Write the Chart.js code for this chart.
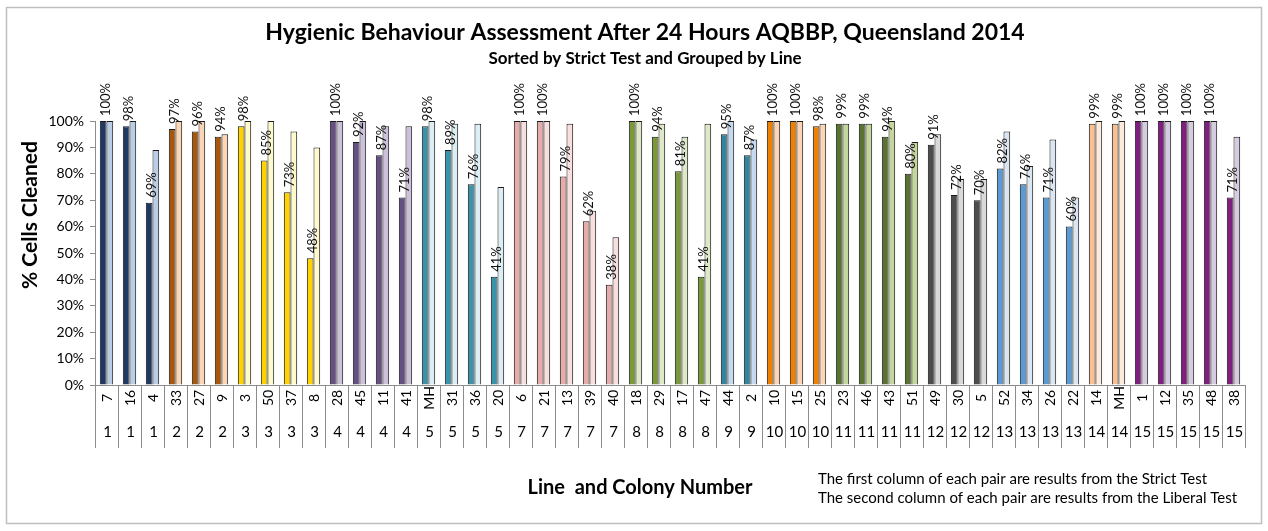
<!DOCTYPE html>
<html>
<head>
<meta charset="utf-8">
<script src="https://cdn.jsdelivr.net/npm/chart.js@4"></script>
<style>
  html, body { margin: 0; padding: 0; background: #fff; }
  #wrap { width: 1268px; height: 531px; }
</style>
</head>
<body>
<div id="wrap"><canvas id="hygieneChart" width="1268" height="531"></canvas></div>
<script>
// Colony and line for each pair of bars
const colonies = ['7', '16', '4', '33', '27', '9', '3', '50', '37', '8', '28', '45', '11', '41', 'MH', '31', '36', '20',
    '6', '21', '13', '39', '40', '18', '29', '17', '47', '44', '2', '10', '15', '25', '23', '46', '43', '51',
    '49', '30', '5', '52', '34', '26', '22', '14', 'MH', '1', '12', '35', '48', '38'];
const lines = [1, 1, 1, 2, 2, 2, 3, 3, 3, 3, 4, 4, 4, 4, 5, 5, 5, 5, 7, 7, 7, 7, 7, 8, 8, 8, 8, 9, 9, 10, 10, 10,
    11, 11, 11, 11, 12, 12, 12, 13, 13, 13, 13, 14, 14, 15, 15, 15, 15, 15];

// % cells cleaned
const strictTest = [100, 98, 69, 97, 96, 94, 98, 85, 73, 48, 100, 92, 87, 71, 98, 89, 76, 41, 100, 100, 79, 62, 38,
    100, 94, 81, 41, 95, 87, 100, 100, 98, 99, 99, 94, 80, 91, 72, 70, 82, 76, 71, 60, 99, 99, 100, 100, 100, 100, 71];
const liberalTest = [100, 100, 89, 100, 100, 95, 100, 100, 96, 90, 100, 100, 98, 98, 100, 99, 99, 75, 100, 100, 99, 66, 56,
    100, 99, 94, 99, 100, 93, 100, 100, 99, 99, 99, 100, 92, 95, 78, 78, 96, 83, 93, 71, 100, 100, 100, 100, 100, 100, 94];

const yTicks = [0, 10, 20, 30, 40, 50, 60, 70, 80, 90, 100];

// strict / liberal colour for each line
const lineColours = {
    1: ['#1F3864', '#B9CDE5'],
    2: ['#A8570B', '#FCD5B5'],
    3: ['#FFD200', '#FFFACC'],
    4: ['#665083', '#CCC1DA'],
    5: ['#3A93AA', '#DBEEF4'],
    7: ['#E6ACAA', '#F8DEDC'],
    8: ['#7A9A3A', '#DDE8C6'],
    9: ['#31859C', '#C6D9F1'],
    10: ['#F08000', '#FCD5B5'],
    11: ['#5A7333', '#C3D69B'],
    12: ['#4D4D4D', '#D9D9D9'],
    13: ['#5B9BD5', '#DCE6F2'],
    14: ['#FAC090', '#FDEADA'],
    15: ['#7F1F7F', '#D6CCE0']
};

const FONT = 'Lato, "Open Sans", sans-serif';
const AXIS_GREY = '#8c8c8c';

// draws the frame, titles, data labels and the two-level category axis
const decorations = {
    id: 'decorations',
    afterDraw(chart) {
        const ctx = chart.ctx;
        const x = chart.scales.x;
        const area = chart.chartArea;
        ctx.save();

        // outer frame
        ctx.strokeStyle = '#bfbfbf';
        ctx.lineWidth = 1.5;
        ctx.strokeRect(6.5, 7.5, 1255, 516);

        // titles
        ctx.fillStyle = '#000';
        ctx.textAlign = 'center';
        ctx.textBaseline = 'middle';
        ctx.font = 'bold 23px ' + FONT;
        ctx.fillText('Hygienic Behaviour Assessment After 24 Hours AQBBP, Queensland 2014', 645, 33);
        ctx.font = 'bold 17px ' + FONT;
        ctx.fillText('Sorted by Strict Test and Grouped by Line', 645, 59);

        // y axis title
        ctx.save();
        ctx.translate(30, 215);
        ctx.rotate(-Math.PI / 2);
        ctx.font = 'bold 21px ' + FONT;
        ctx.fillText('% Cells Cleaned', 0, 0);
        ctx.restore();

        // x axis title and note
        ctx.font = 'bold 20px ' + FONT;
        ctx.fillText('Line  and Colony Number', 640, 488);
        ctx.font = '15px ' + FONT;
        ctx.textAlign = 'left';
        ctx.fillText('The first column of each pair are results from the Strict Test', 818, 479);
        ctx.fillText('The second column of each pair are results from the Liberal Test', 818, 498);

        // category separators
        ctx.strokeStyle = AXIS_GREY;
        ctx.lineWidth = 1;
        const half = (x.getPixelForValue(1) - x.getPixelForValue(0)) / 2;
        for (let i = 0; i <= colonies.length; i++) {
            const px = Math.round(x.getPixelForValue(i) - half) + 0.5;
            ctx.beginPath();
            ctx.moveTo(px, area.bottom);
            ctx.lineTo(px, area.bottom + 63);
            ctx.stroke();
        }

        // colony and line labels
        ctx.fillStyle = '#000';
        colonies.forEach((c, i) => {
            const px = x.getPixelForValue(i);
            ctx.save();
            ctx.translate(px + 1, area.bottom + 13);
            ctx.rotate(-Math.PI / 2);
            ctx.font = '14px ' + FONT;
            ctx.textAlign = 'center';
            ctx.textBaseline = 'middle';
            ctx.fillText(c, 0, 0);
            ctx.restore();
            ctx.font = '15px ' + FONT;
            ctx.textAlign = 'center';
            ctx.textBaseline = 'middle';
            ctx.fillText(String(lines[i]), px + 1, area.bottom + 47);
        });

        // strict test value labels
        const meta = chart.getDatasetMeta(0);
        ctx.font = '13px ' + FONT;
        ctx.fillStyle = '#111';
        meta.data.forEach((bar, i) => {
            ctx.save();
            ctx.translate(bar.x + 3, bar.y - 5);
            ctx.rotate(-Math.PI / 2);
            ctx.textAlign = 'left';
            ctx.textBaseline = 'middle';
            ctx.fillText(strictTest[i] + '%', 0, 0);
            ctx.restore();
        });
        ctx.restore();
    }
};

const ctxHygiene = document.getElementById('hygieneChart').getContext('2d');
new Chart(ctxHygiene, {
    type: 'bar',
    data: {
        labels: colonies,
        datasets: [{
            label: 'Strict Test',
            data: strictTest,
            backgroundColor: lines.map(l => lineColours[l][0]),
            borderColor: '#1a1a1a',
            borderWidth: 1,
            categoryPercentage: 0.58,
            barPercentage: 1.0
        }, {
            label: 'Liberal Test',
            data: liberalTest,
            backgroundColor: lines.map(l => lineColours[l][1]),
            borderColor: '#1a1a1a',
            borderWidth: 1,
            categoryPercentage: 0.58,
            barPercentage: 1.0
        }]
    },
    options: {
        responsive: false,
        animation: false,
        layout: { padding: { top: 121, right: 23, left: 0, bottom: 0 } },
        plugins: {
            legend: { display: false },
            tooltip: { enabled: false }
        },
        scales: {
            x: {
                ticks: { display: false },
                grid: { display: false },
                border: { display: true, color: AXIS_GREY },
                afterFit(scale) { scale.height = 146; }
            },
            y: {
                min: 0,
                max: 100,
                afterBuildTicks(scale) { scale.ticks = yTicks.map(v => ({ value: v })); },
                ticks: {
                    padding: 6,
                    color: '#000',
                    font: { family: FONT, size: 14 },
                    callback: v => v + '%'
                },
                grid: { drawOnChartArea: false, drawTicks: true, tickLength: 5, color: AXIS_GREY },
                border: { display: true, color: AXIS_GREY },
                afterFit(scale) { scale.width = 95; }
            }
        }
    },
    plugins: [decorations]
});
</script>
</body>
</html>
